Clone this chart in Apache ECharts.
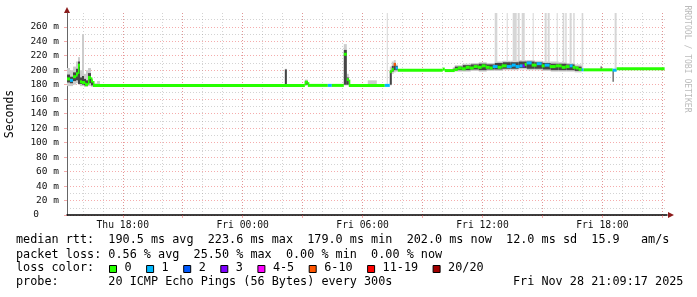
<!DOCTYPE html>
<html><head><meta charset="utf-8">
<script src="https://cdn.jsdelivr.net/npm/echarts@6/dist/echarts.min.js"></script>
<style>html,body{margin:0;padding:0;background:#fff;}#c{width:697px;height:297px;}</style>
</head><body><div id="c"></div>
<script>
// ---------- axis extents / ticks (hours since Thu 00:00, milliseconds) ----------
const X_MIN = 15.21, X_MAX = 45.23;
const Y_MAX = 279;
const xMinorHours = [16,17,18,19,20,21,22,23,24,25,26,27,28,29,30,31,32,33,34,35,36,37,38,39,40,41,42,43,44,45];
const xMajorHours = [18,21,24,27,30,33,36,39,42,45];
const xLabelHours = [18,24,30,36,42];
const yMinorTicks = [10,30,50,70,90,110,130,150,170,190,210,230,250,270];
const yMajorTicks = [0,20,40,60,80,100,120,140,160,180,200,220,240,260];

// ---------- median rtt (segment start times, value ms, lost pings of 20) ----------
const medT = [15.21,15.36,15.51,15.66,15.76,15.86,15.96,16.11,16.26,16.41,16.51,
  27.11,27.26,28.26,28.46,29.06,29.21,29.31,31.11,31.36,31.46,31.56,31.66,31.76,34.01,34.11,
  34.61,34.76,34.96,35.16,35.36,35.56,35.76,35.96,36.16,36.36,36.51,36.76,36.96,37.21,37.46,
  37.66,37.86,38.01,38.11,38.21,38.46,38.71,38.96,39.11,39.36,39.66,39.96,40.16,40.36,40.51,
  40.66,40.81,40.96,41.06,42.51,42.71];
const medEnd = 45.11;
const medV = [188,186,191,195,207,184,183,180,190,185,179,
  183.5,179,179,179,222,187,179,179,198,201,208,203,200,201.5,199.5,
  201,203,202,204,203,205,204,206,204,203,205,204,206,205,207,
  205,206,206,208,210,207,209,206,207,205,206,204,205,206,204,
  203,201,200.5,200.5,200,202];
const medLoss = [0,1,0,0,0,0,0,0,0,0,0,
  0,0,1,0,0,0,0,1,0,0,8,1,0,0,0,
  0,0,0,0,0,0,0,0,0,0,1,0,0,1,1,
  1,1,3,0,1,0,1,0,1,0,0,0,0,1,0,
  0,0,1,0,1,0];

// ---------- smoke (start, end, min, max, inner low, inner high) ----------
const smokeStart = [15.21,15.36,15.51,15.66,15.76,15.86,15.96,16.06,16.16,16.26,16.41,16.51,16.71,
  26.11,27.11,29.06,29.21,30.26,31.36,31.46,31.56,31.66,
  34.51,34.61,35.01,35.41,35.81,36.21,36.61,37.01,37.41,37.81,38.21,38.61,39.01,39.41,39.81,40.21,40.61,
  41.91,42.51];
const smokeEnd = [15.36,15.51,15.66,15.76,15.86,15.96,16.06,16.16,16.26,16.41,16.51,16.71,16.86,
  26.21,27.26,29.21,29.31,30.71,31.46,31.56,31.66,31.76,
  34.61,35.01,35.41,35.81,36.21,36.61,37.01,37.41,37.81,38.21,38.61,39.01,39.41,39.81,40.21,40.61,40.96,
  41.96,42.56];
const smokeMin = [178,178,180,182,180,178,178,177,177,178,177,178,178,
  179,179,179,179,179,179,195,197,198,
  199,198,198,199,198,199,199,200,200,201,200,200,199,198,198,198,197,
  200,184];
const smokeMax = [203,200,205,212,218,200,249,195,200,203,188,182,185,
  202,187,236,195,186,205,212,214,208,
  204,207,209,210,211,210,212,213,213,214,214,213,212,212,211,210,208,
  206,202];
const smokeLo = [183,182,185,186,181,181,180,179,179,182,179,178,178,
  180,180,180,180,179,180,198,200,200,
  200,200,200,201,200,201,201,202,202,203,202,202,201,200,200,200,199,
  200,184];
const smokeHi = [194,191,197,202,212,190,192,188,186,196,186,180,180,
  201,185,228,190,180,199,206,210,206,
  202,205,207,208,209,208,210,211,211,212,212,211,210,209,209,208,205,
  205,200];

// ---------- tall max-ping spikes (start, end, base ms, top ms) ----------
const spikeStart = [31.21,36.61,37.21,37.51,37.76,37.96,38.51,39.11,39.26,39.71,40.01,40.14,40.36,40.54,40.96,42.61];
const spikeEnd   = [31.26,36.74,37.26,37.71,37.86,38.11,38.56,39.21,39.36,39.76,40.09,40.21,40.46,40.61,41.04,42.71];
const spikeBase  = [179,206,206,207,207,207,208,207,207,206,205,205,206,205,201,201];
const spikeTop   = [300,300,300,300,300,300,300,300,300,300,300,300,300,300,300,300];

// ---------- legend ----------
const lossLabels = ['0','1','2','3','4-5','6-10','11-19','20/20'];
const lossColors = ['#26ff00','#00b8ff','#0059ff','#7e00ff','#ff00ff','#ff5500','#ff0000','#a00000'];
const statLine1 = 'median rtt:  190.5 ms avg  223.6 ms max  179.0 ms min  202.0 ms now  12.0 ms sd  15.9   am/s';
const statLine2 = 'packet loss: 0.56 % avg  25.50 % max  0.00 % min  0.00 % now';
const probeLine = 'probe:       20 ICMP Echo Pings (56 Bytes) every 300s';
const stampText = 'Fri Nov 28 21:09:17 2025';

function lossColor(n){
  if(n<=0) return lossColors[0];
  if(n===1) return lossColors[1];
  if(n===2) return lossColors[2];
  if(n===3) return lossColors[3];
  if(n<=5) return lossColors[4];
  if(n<=10) return lossColors[5];
  if(n<=19) return lossColors[6];
  return lossColors[7];
}
function lossClass(n){ return n<=3 ? n : (n<=5 ? 4 : (n<=10 ? 5 : (n<=19 ? 6 : 7))); }

const MONO = '"DejaVu Sans Mono", monospace';
const GRAY_GRID = 'rgba(150,150,150,0.42)';
const RED_GRID = 'rgba(235,90,90,0.5)';

const medData = medT.map((t,i)=>[t, i+1<medT.length?medT[i+1]:medEnd, medV[i], medLoss[i],
  i>0?medV[i-1]:medV[i], (i>0 && lossClass(medLoss[i-1])===lossClass(medLoss[i]))?1:0]);
const smokeOuter = smokeStart.map((t,i)=>[t, smokeEnd[i], smokeMin[i], smokeMax[i]]);
const smokeInner = smokeStart.map((t,i)=>[t, smokeEnd[i], smokeLo[i], smokeHi[i]]);
const spikeData = spikeStart.map((t,i)=>[t, spikeEnd[i], spikeBase[i], spikeTop[i]]);

function rectRender(color){
  return function(params, api){
    const p0 = api.coord([api.value(0), api.value(3)]);
    const p1 = api.coord([api.value(1), api.value(2)]);
    return {type:'rect', shape:{x:p0[0], y:p0[1], width:Math.max(1,p1[0]-p0[0]), height:p1[1]-p0[1]}, style:{fill:color}};
  };
}

function xLabel(v){
  const d = v < 24 ? 'Thu' : 'Fri';
  const h = Math.round(v) % 24;
  return d + ' ' + (h<10?'0':'') + h + ':00';
}

const baseX = {type:'value', min:X_MIN, max:X_MAX, position:'bottom', gridIndex:0};
const baseY = {type:'value', min:0, max:Y_MAX, position:'left', gridIndex:0};

// legend graphic layout
const CW = 7.1;
const graphics = [];
graphics.push({type:'text', left:16, top:234, style:{text:statLine1, font:'11.8px '+MONO, fill:'#000'}});
graphics.push({type:'text', left:16, top:248.5, style:{text:statLine2, font:'11.8px '+MONO, fill:'#000'}});
graphics.push({type:'text', left:16, top:262, style:{text:'loss color:', font:'11.8px '+MONO, fill:'#000'}});
let bx = 109.5;
lossLabels.forEach((lab,i)=>{
  graphics.push({type:'rect', shape:{x:bx, y:265.5, width:7, height:7}, style:{fill:lossColors[i], stroke:'#000', lineWidth:1}});
  graphics.push({type:'text', x:bx+15, y:262, style:{text:lab, font:'11.8px '+MONO, fill:'#000'}});
  bx = bx + 15 + lab.length*CW + 15;
});
graphics.push({type:'text', left:16, top:276, style:{text:probeLine, font:'11.8px '+MONO, fill:'#000'}});
graphics.push({type:'text', left:513, top:276, style:{text:stampText, font:'11.8px '+MONO, fill:'#000'}});
graphics.push({type:'text', x:10, y:114, rotation:Math.PI/2, style:{text:'Seconds', font:'11.5px '+MONO, fill:'#000', align:'center', verticalAlign:'middle'}});
graphics.push({type:'text', x:687, y:59, rotation:-Math.PI/2, style:{text:'RRDTOOL / TOBI OETIKER', font:'8.1px '+MONO, fill:'#bbb', align:'center', verticalAlign:'middle'}});
graphics.push({type:'polygon', shape:{points:[[64,13],[70,13],[67,7]]}, style:{fill:'#8b1a1a'}});
graphics.push({type:'polygon', shape:{points:[[668,212],[668,218],[674,215]]}, style:{fill:'#8b1a1a'}});

const chart = echarts.init(document.getElementById('c'), null, {renderer:'canvas'});
chart.setOption({
  animation:false,
  backgroundColor:'#fff',
  grid:{left:67, top:13, width:600, height:202, containLabel:false},
  xAxis:[
    Object.assign({}, baseX, {axisLine:{show:true, lineStyle:{color:'#000', width:1.5}}, axisTick:{show:false, customValues:xMinorHours}, axisLabel:{show:false}, splitLine:{show:true, lineStyle:{color:GRAY_GRID, type:[1,2], width:1}}}),
    Object.assign({}, baseX, {axisLine:{show:false}, axisTick:{show:true, customValues:xMajorHours, length:3, lineStyle:{color:RED_GRID}}, axisLabel:{show:false}, splitLine:{show:true, lineStyle:{color:RED_GRID, type:[1,2], width:1}}}),
    Object.assign({}, baseX, {axisLine:{show:false}, axisTick:{show:false, customValues:xLabelHours}, splitLine:{show:false},
      axisLabel:{show:true, customValues:xLabelHours, formatter:xLabel, margin:5, color:'#111', fontFamily:'DejaVu Sans Mono', fontSize:9.7}})
  ],
  yAxis:[
    Object.assign({}, baseY, {axisLine:{show:true, lineStyle:{color:'#666', width:1}}, axisTick:{show:false, customValues:yMinorTicks}, axisLabel:{show:false}, splitLine:{show:true, lineStyle:{color:GRAY_GRID, type:[1,2], width:1}}}),
    Object.assign({}, baseY, {axisLine:{show:false}, axisTick:{show:true, customValues:yMajorTicks, length:3, lineStyle:{color:RED_GRID}}, splitLine:{show:true, lineStyle:{color:RED_GRID, type:[1,2], width:1}},
      axisLabel:{show:true, customValues:yMajorTicks, margin:8, color:'#111', fontFamily:'DejaVu Sans Mono', fontSize:9.5,
        formatter:function(v){ return v===0 ? '{z|0}' : v + ' m'; }, rich:{z:{padding:[0,20,0,0], fontFamily:'DejaVu Sans Mono', fontSize:9.5, color:'#111'}}}})
  ],
  series:[
    {type:'custom', name:'smoke-outer', xAxisIndex:0, yAxisIndex:0, clip:true, renderItem:rectRender('#cccccc'), data:smokeOuter, silent:true},
    {type:'custom', name:'spikes', xAxisIndex:0, yAxisIndex:0, clip:true, renderItem:rectRender('#d6d6d6'), data:spikeData, silent:true},
    {type:'custom', name:'smoke-inner', xAxisIndex:0, yAxisIndex:0, clip:true, renderItem:rectRender('#454545'), data:smokeInner, silent:true},
    {type:'custom', name:'median', xAxisIndex:0, yAxisIndex:0, clip:true, data:medData, silent:true,
      renderItem:function(params, api){
        const t0 = api.value(0), t1 = api.value(1), v = api.value(2), pv = api.value(4);
        const a = api.coord([t0, v]);
        const b = api.coord([t1, v]);
        const col = lossColor(api.value(3));
        const children = [{type:'line', shape:{x1:a[0], y1:a[1], x2:b[0], y2:b[1]}, style:{stroke:col, lineWidth:3}}];
        if (api.value(5) === 1 && Math.abs(v - pv) > 0 && Math.abs(v - pv) < 20) {
          const p = api.coord([t0, pv]);
          children.push({type:'line', shape:{x1:a[0]+0.75, y1:p[1], x2:a[0]+0.75, y2:a[1]}, style:{stroke:col, lineWidth:1.5}});
        }
        return {type:'group', children:children};
      }}
  ],
  graphic:graphics
});
</script></body></html>
